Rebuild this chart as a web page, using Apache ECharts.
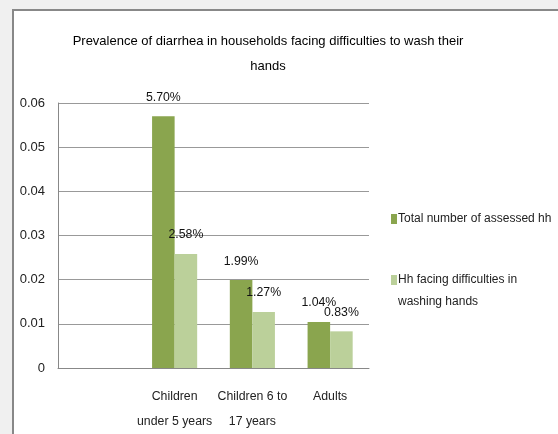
<!DOCTYPE html>
<html><head><meta charset="utf-8">
<script src="https://cdn.jsdelivr.net/npm/echarts@6/dist/echarts.min.js"></script>
<style>html,body{margin:0;padding:0;background:#f0f0f0;}#c{width:558px;height:434px;}</style>
</head><body><div id="c"></div>
<script>
var titleText = 'Prevalence of diarrhea in households facing difficulties to wash their\nhands';
var categories = ['', 'Children\nunder 5 years', 'Children 6 to\n17 years', 'Adults'];
var seriesNames = ['Total number of assessed hh', 'Hh facing difficulties in\nwashing hands'];
var totalAssessed = [null, 0.057, 0.0199, 0.0104];
var facingDifficulties = [null, 0.0258, 0.0127, 0.0083];
var yTicks = [0, 0.01, 0.02, 0.03, 0.04, 0.05, 0.06];

var FONT = "'Liberation Sans', Arial, sans-serif";
var chart = echarts.init(document.getElementById('c'));
function pctLabel(p){ return (p.value*100).toFixed(2) + '%'; }
chart.setOption({
  animation: false,
  textStyle: {fontFamily: FONT},
  graphic: [{
    type: 'rect', z: -10, silent: true,
    shape: {x: 13, y: 10, width: 560, height: 440},
    style: {fill: '#ffffff', stroke: '#888888', lineWidth: 2}
  }],
  title: {
    text: titleText, left: 263, top: 24, textAlign: 'center',
    textStyle: {fontFamily: FONT, fontSize: 13, fontWeight: 'normal', color: '#000', lineHeight: 25}
  },
  legend: {
    orient: 'vertical', left: 386, top: 203, itemGap: 17,
    itemWidth: 6, itemHeight: 10, icon: 'rect',
    textStyle: {fontFamily: FONT, fontSize: 12, color: '#222', lineHeight: 22, padding: [0,0,0,-4]},
    formatter: function(name){ return name === seriesNames[1] ? ' \n' + name : name; },
    data: seriesNames
  },
  grid: {left: 58, right: 189, top: 103, bottom: 66},
  xAxis: {
    type: 'category', data: categories,
    axisLine: {lineStyle: {color: '#888'}},
    axisTick: {show: false},
    axisLabel: {fontFamily: FONT, fontSize: 12.3, color: '#222', lineHeight: 25, margin: 16, interval: 0}
  },
  yAxis: {
    type: 'value', min: 0, max: 0.06, interval: 0.01,
    axisLine: {show: true, lineStyle: {color: '#888'}},
    axisTick: {show: false},
    splitLine: {lineStyle: {color: '#999'}},
    axisLabel: {fontFamily: FONT, fontSize: 13, color: '#222', margin: 13,
      formatter: function(v){ return v === 0 ? '0' : v.toFixed(2); }}
  },
  series: [{
    name: seriesNames[0], type: 'bar', data: totalAssessed,
    barGap: '0%', barCategoryGap: '42%',
    itemStyle: {color: '#8aa54e'},
    label: {show: true, position: 'top', distance: 13, formatter: pctLabel,
      fontFamily: FONT, fontSize: 12.3, color: '#111'}
  }, {
    name: seriesNames[1], type: 'bar', data: facingDifficulties,
    itemStyle: {color: '#bbd09a'},
    label: {show: true, position: 'top', distance: 13, formatter: pctLabel,
      fontFamily: FONT, fontSize: 12.3, color: '#111'}
  }]
});
</script></body></html>
